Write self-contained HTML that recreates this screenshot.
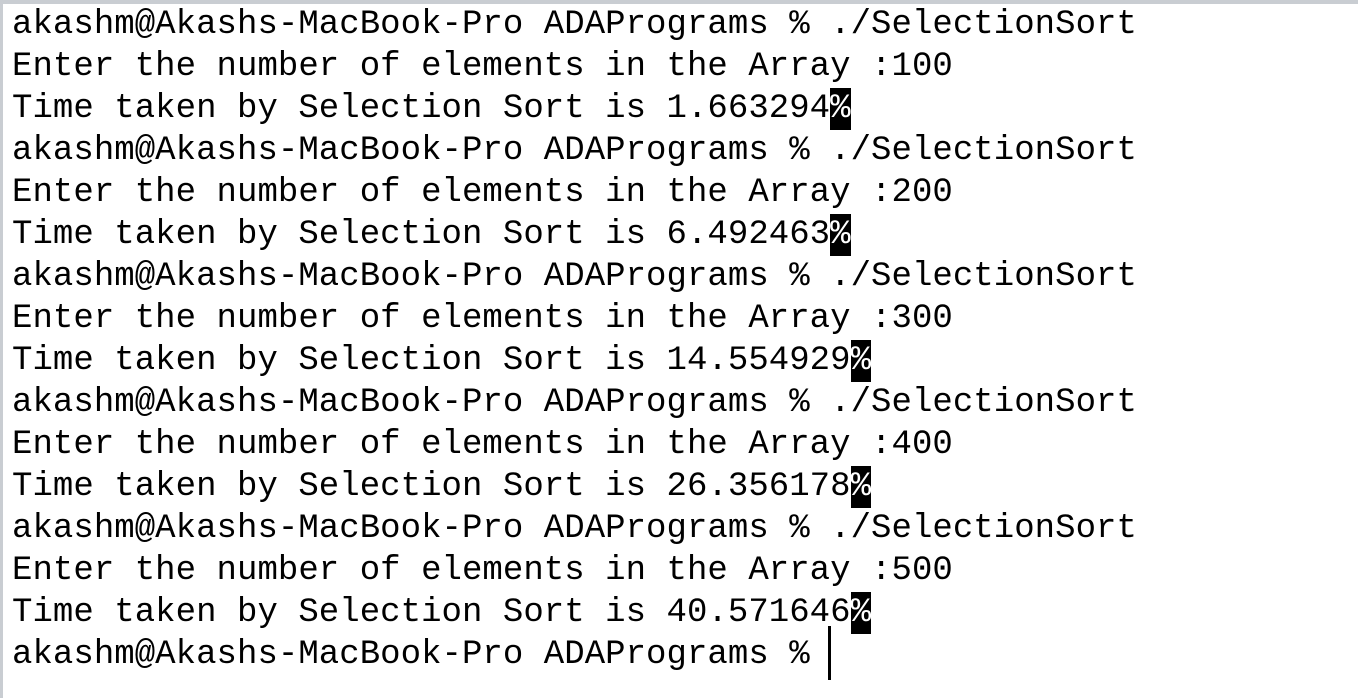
<!DOCTYPE html>
<html><head><meta charset="utf-8"><style>
html,body{margin:0;padding:0;width:1358px;height:698px;overflow:hidden;background:#fff}
.frame{position:absolute;left:0;top:0;width:1358px;height:698px;border-top:4px solid #c9cdd2;border-left:3px solid #c9cdd2;box-sizing:border-box}
.t{position:absolute;left:12px;top:4px;font-family:"Liberation Mono",monospace;font-size:34px;line-height:42px;color:#000;white-space:pre;letter-spacing:0.05px}
.p{background:#000;color:#fff;display:inline-block;height:42px;line-height:42px;vertical-align:top}
.cur{position:absolute;left:828px;top:626px;width:3px;height:54px;background:#000}
</style></head><body>
<div class="frame"></div>
<div class="t">akashm@Akashs-MacBook-Pro ADAPrograms % ./SelectionSort
Enter the number of elements in the Array :100
Time taken by Selection Sort is 1.663294<span class="p">%</span>
akashm@Akashs-MacBook-Pro ADAPrograms % ./SelectionSort
Enter the number of elements in the Array :200
Time taken by Selection Sort is 6.492463<span class="p">%</span>
akashm@Akashs-MacBook-Pro ADAPrograms % ./SelectionSort
Enter the number of elements in the Array :300
Time taken by Selection Sort is 14.554929<span class="p">%</span>
akashm@Akashs-MacBook-Pro ADAPrograms % ./SelectionSort
Enter the number of elements in the Array :400
Time taken by Selection Sort is 26.356178<span class="p">%</span>
akashm@Akashs-MacBook-Pro ADAPrograms % ./SelectionSort
Enter the number of elements in the Array :500
Time taken by Selection Sort is 40.571646<span class="p">%</span>
akashm@Akashs-MacBook-Pro ADAPrograms % </div>
<div class="cur"></div>
</body></html>
